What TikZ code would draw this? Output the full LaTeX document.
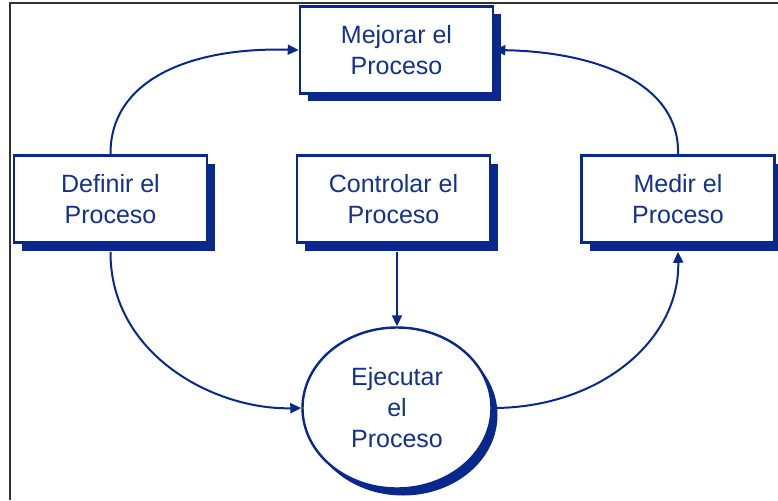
\documentclass[tikz,border=0pt]{standalone}
\usepackage{fontspec}
\setmainfont{Liberation Sans}
\usetikzlibrary{shapes.geometric,shadows,arrows.meta}
\definecolor{dblue}{RGB}{8,40,140}
\definecolor{tblue}{RGB}{18,50,140}
\begin{document}
\begin{tikzpicture}[x=1pt,y=-1pt,
  txt/.style={text=tblue, font=\fontsize{25}{31}\selectfont, align=center},
  box/.style={txt, draw=dblue, line width=2.6pt, fill=white, minimum width=193pt, minimum height=87pt, inner sep=0pt,
    drop shadow={shadow xshift=8pt, shadow yshift=-8pt, fill=dblue, opacity=1}},
  oval/.style={txt, ellipse, draw=dblue, line width=2.4pt, fill=white, minimum width=189pt, minimum height=161pt, inner sep=0pt,
    drop shadow={shadow xshift=6pt, shadow yshift=-7pt, fill=dblue, opacity=1}},
  conn/.style={draw=dblue, line width=2pt, -{Triangle[length=11pt,width=10pt]}}
]
\useasboundingbox (0,0) rectangle (778,500);
\draw[line width=2.2pt, black!80] (10,500) -- (10,3) -- (778,3);

\node[box] (mej) at (396.5,50) {Mejorar el\\Proceso};
\node[box] (def) at (110.5,199) {Definir el\\Proceso};
\node[box] (con) at (393.5,199) {Controlar el\\Proceso};
\node[box] (med) at (678,199) {Medir el\\Proceso};
\node[oval] (eje) at (397,408) {Ejecutar\\el\\Proceso};

\draw[conn] (def.north) .. controls (110,80) and (190,47) .. (mej.west);
\draw[conn] (med.north) .. controls (680,85) and (600,52) .. (mej.east);
\draw[conn] ([yshift=-8pt]def.south) .. controls (110,355) and (215,410) .. (eje.west);
\draw[conn] (eje.east) .. controls (600,408) and (680,340) .. ([yshift=-8pt]med.south);
\draw[conn] ([yshift=-8pt]con.south -| eje.north) -- (eje.north);
\end{tikzpicture}
\end{document}
